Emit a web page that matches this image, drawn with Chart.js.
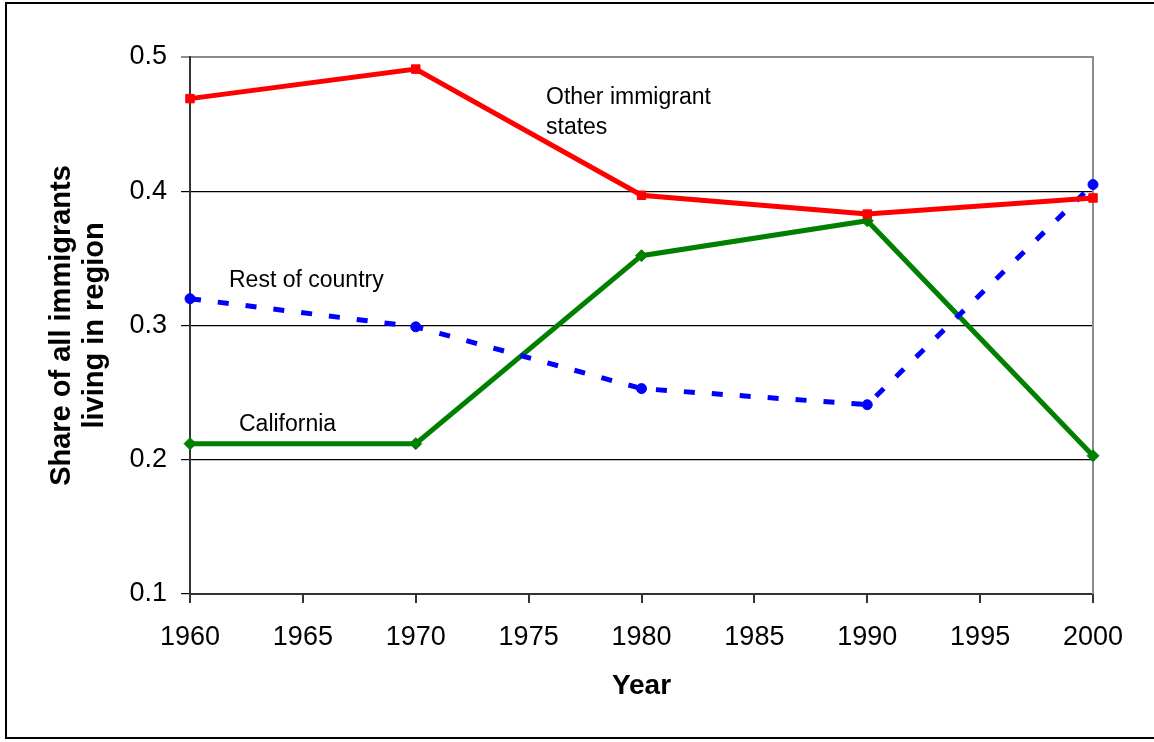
<!DOCTYPE html>
<html>
<head>
<meta charset="utf-8">
<script src="https://cdn.jsdelivr.net/npm/chart.js@4/dist/chart.umd.min.js"></script>
<style>
  html, body { margin: 0; padding: 0; background: #fff; overflow: hidden; }
  #wrap { position: absolute; left: 0; top: 0; width: 1154px; height: 742px; }
  #frame { position: absolute; left: 5px; top: 2px; width: 1160px; height: 737px; border: 2px solid #000; box-sizing: border-box; }
</style>
</head>
<body>
<div id="frame"></div>
<div id="wrap"><canvas id="c" width="1154" height="742"></canvas></div>
<script>
const years = [1960, 1970, 1980, 1990, 2000];
const otherStates = [0.469, 0.491, 0.397, 0.383, 0.395];
const restOfCountry = [0.320, 0.299, 0.253, 0.241, 0.405];
const california = [0.212, 0.212, 0.352, 0.378, 0.203];
const yTicks = [0.1, 0.2, 0.3, 0.4, 0.5];
const xTicks = [1960, 1965, 1970, 1975, 1980, 1985, 1990, 1995, 2000];
const seriesNames = ['Other immigrant states', 'Rest of country', 'California'];

const pts = arr => years.map((y, i) => ({x: y, y: arr[i]}));

const labelsPlugin = {
  id: 'labels',
  beforeDatasetsDraw(chart) {
    const {ctx, chartArea} = chart;
    ctx.save();
    ctx.strokeStyle = '#8c8c8c';
    ctx.lineWidth = 2;
    ctx.beginPath();
    ctx.moveTo(chartArea.right, chartArea.top - 1);
    ctx.lineTo(chartArea.right, chartArea.bottom);
    ctx.stroke();
    ctx.restore();
  },
  afterDatasetsDraw(chart) {
    const {ctx} = chart;
    ctx.save();
    ctx.fillStyle = '#000';
    ctx.font = '23px "Liberation Sans", Arial, sans-serif';
    ctx.textBaseline = 'alphabetic';
    ctx.textAlign = 'left';
    ctx.fillText('Other immigrant', 546, 104);
    ctx.fillText('states', 546, 134);
    ctx.fillText('Rest of country', 229, 287);
    ctx.fillText('California', 239, 431);
    ctx.restore();
  }
};

const ctx = document.getElementById('c').getContext('2d');
new Chart(ctx, {
  type: 'line',
  data: {
    datasets: [
      {
        label: seriesNames[0], data: pts(otherStates), clip: false,
        borderColor: '#ff0000', backgroundColor: '#ff0000', borderWidth: 5,
        pointStyle: 'rect', pointRadius: 6, pointBorderWidth: 1, pointBorderColor: '#ff0000', tension: 0
      },
      {
        label: seriesNames[1], data: pts(restOfCountry), clip: false,
        borderColor: '#0000ff', backgroundColor: '#0000ff', borderWidth: 5,
        borderDash: [11, 17], borderCapStyle: 'butt',
        pointStyle: 'circle', pointRadius: 5, pointBorderWidth: 1, pointBorderColor: '#0000ff', tension: 0
      },
      {
        label: seriesNames[2], data: pts(california), clip: false,
        borderColor: '#008000', backgroundColor: '#008000', borderWidth: 5,
        pointStyle: 'rectRot', pointRadius: 6, pointBorderWidth: 1, pointBorderColor: '#008000', tension: 0
      }
    ]
  },
  options: {
    responsive: false,
    animation: false,
    devicePixelRatio: 1,
    layout: { padding: { left: 0, top: 57, right: 61, bottom: 0 } },
    plugins: { legend: { display: false }, tooltip: { enabled: false } },
    scales: {
      x: {
        type: 'linear', min: 1960, max: 2000,
        afterBuildTicks: s => { s.ticks = xTicks.map(v => ({value: v})); },
        afterFit: s => { s.height = 148; },
        ticks: {
          color: '#000', padding: 18, maxRotation: 0, autoSkip: false,
          font: { family: '"Liberation Sans", Arial, sans-serif', size: 27 },
          callback: v => String(v)
        },
        grid: { drawOnChartArea: false, drawTicks: true, tickLength: 9, color: '#333', lineWidth: 2 },
        border: { display: true, color: '#333', width: 2 },
        title: {
          display: true, text: 'Year', color: '#000', padding: { top: 0, bottom: 39 },
          font: { family: '"Liberation Sans", Arial, sans-serif', size: 28, weight: 'bold' }
        }
      },
      y: {
        min: 0.1, max: 0.5,
        afterBuildTicks: s => { s.ticks = yTicks.map(v => ({value: v})); },
        afterFit: s => { s.width = 190; },
        ticks: {
          color: '#000', padding: 14,
          font: { family: '"Liberation Sans", Arial, sans-serif', size: 27 },
          callback: v => String(Math.round(v * 10) / 10)
        },
        grid: {
          drawTicks: true, tickLength: 9,
          color: c => (c.tick && Math.abs(c.tick.value - 0.5) < 1e-6) ? '#8c8c8c' : '#000',
          lineWidth: c => (c.tick && Math.abs(c.tick.value - 0.5) < 1e-6) ? 2 : 1.2
        },
        border: { display: true, color: '#333', width: 2 },
        title: {
          display: true, text: ['Share of all immigrants', 'living in region'], color: '#000',
          padding: { top: 45, bottom: 0 },
          font: { family: '"Liberation Sans", Arial, sans-serif', size: 29, weight: 'bold', lineHeight: 1.15 }
        }
      }
    }
  },
  plugins: [labelsPlugin]
});
</script>
</body>
</html>
